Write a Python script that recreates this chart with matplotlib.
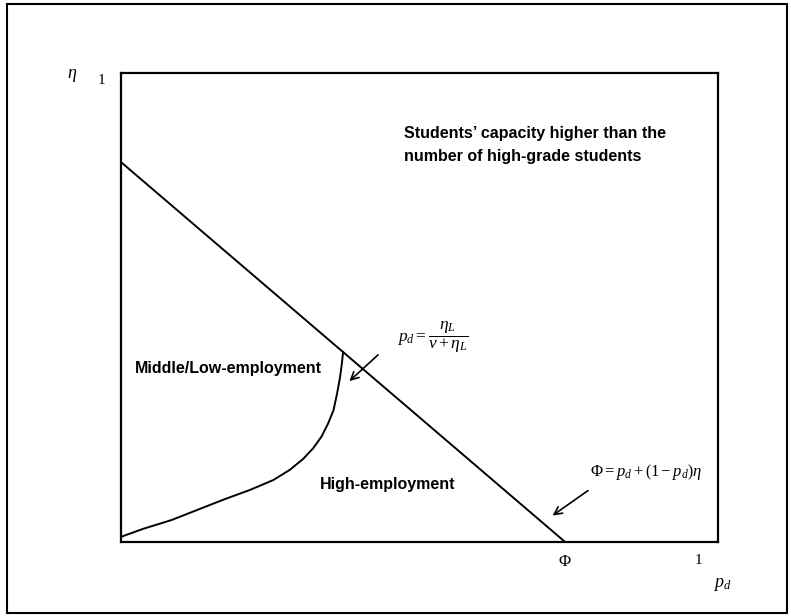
import matplotlib
matplotlib.use('Agg')
import matplotlib.pyplot as plt
from matplotlib.patches import Rectangle

plt.rcParams['mathtext.fontset'] = 'custom'
plt.rcParams['mathtext.rm'] = 'Liberation Serif'
plt.rcParams['mathtext.it'] = 'Liberation Serif:italic'

################################################################################
# DATA
################################################################################
phi = 0.744                 # where the boundary meets the p_d axis
eta0 = 0.81                 # boundary at p_d = 0
line_p = [0.0, phi]
line_eta = [eta0, 0.0]

# p_d = eta_L / (nu + eta_L) curve
curve_p = [0.0, 0.037, 0.085, 0.127, 0.171, 0.216, 0.255, 0.283, 0.305, 0.322,
           0.336, 0.347, 0.356, 0.362, 0.367, 0.370, 0.372]
curve_eta = [0.011, 0.028, 0.047, 0.068, 0.090, 0.111, 0.132, 0.154, 0.177, 0.200,
             0.225, 0.253, 0.281, 0.317, 0.352, 0.381, 0.405]

top_label = ["Students\u2019 capacity higher than the", "number of high-grade students"]
mid_label = "Middle/Low-employment"
high_label = "High-employment"
formula_curve = r'$p_d = \dfrac{\eta_L}{\nu + \eta_L}$'
formula_line = r'$\Phi = p_d + \left(1 - p_d\right)\eta$'

################################################################################
# PLOT
################################################################################
fig = plt.figure(figsize=(7.91, 6.16), dpi=100)
# outer frame
fig.patches.append(Rectangle((7/791, 3/616), 780/791, 609/616, transform=fig.transFigure,
                             fill=False, edgecolor='black', lw=1.5))

ax = fig.add_axes([121/791, 74/616, 597/791, 469/616])
ax.set_xlim(0, 1)
ax.set_ylim(0, 1)
ax.set_xticks([])
ax.set_yticks([])
for s in ax.spines.values():
    s.set_linewidth(1.6)

ax.plot(line_p, line_eta, color='black', lw=1.4)
ax.plot(curve_p, curve_eta, color='black', lw=1.4)

bold = dict(family='Liberation Sans', weight='bold', fontsize=11.5)
ax.text(0.474, 0.870, top_label[0], va='center', ha='left', **bold)
ax.text(0.474, 0.822, top_label[1], va='center', ha='left', **bold)
ax.text(0.024, 0.371, mid_label, va='center', ha='left', **bold)
ax.text(0.333, 0.123, high_label, va='center', ha='left', **bold)

ax.text(0.462, 0.437, formula_curve, fontsize=12.5, va='center', ha='left')
ax.text(0.785, 0.15, formula_line, fontsize=12, va='center', ha='left', clip_on=False)

arrow = dict(arrowstyle='->', color='black', lw=1.2, mutation_scale=14)
ax.annotate('', xy=(0.379, 0.339), xytext=(0.434, 0.403), arrowprops=arrow)
ax.annotate('', xy=(0.719, 0.053), xytext=(0.786, 0.113), arrowprops=arrow)

serif = dict(family='Liberation Serif', fontsize=11)
ax.text(phi, -0.04, r'$\Phi$', ha='center', va='center', fontsize=12)
ax.text(0.968, -0.04, '1', ha='center', va='center', **serif)
ax.text(1.007, -0.09, r'$p_d$', ha='center', va='center', fontsize=13)
ax.text(-0.082, 0.996, r'$\eta$', ha='center', va='center', fontsize=13)
ax.text(-0.032, 0.985, '1', ha='center', va='center', **serif)

plt.savefig('out.png', dpi=100)
